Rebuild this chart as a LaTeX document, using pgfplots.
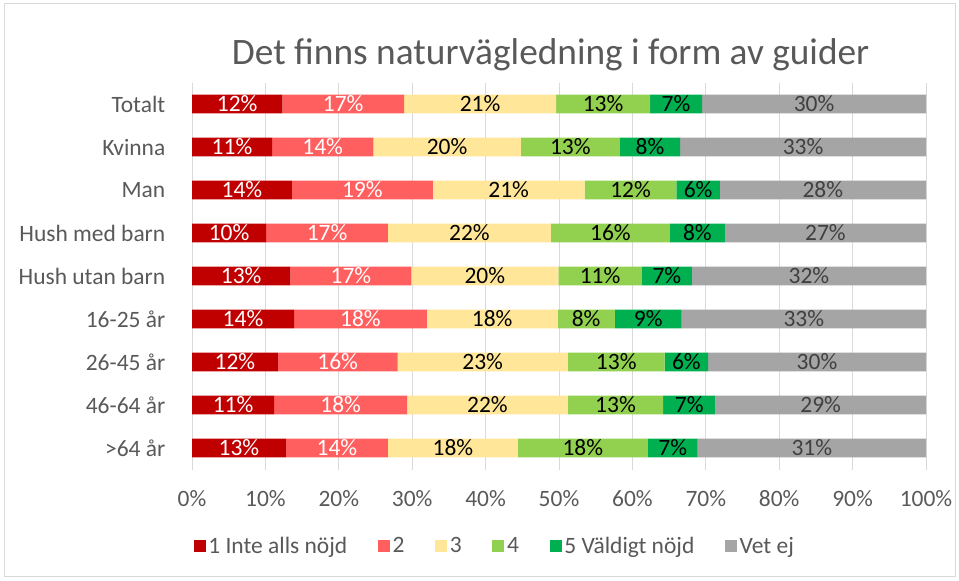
\documentclass[border=0pt]{standalone}
\usepackage{fontspec}
\setmainfont{Carlito}
\usepackage{pgfplots}
\pgfplotsset{compat=1.18}
\usepackage{pgfplotstable}
\definecolor{c1}{HTML}{C00000}
\definecolor{c2}{HTML}{FF5F5F}
\definecolor{c3}{HTML}{FFE699}
\definecolor{c4}{HTML}{92D050}
\definecolor{c5}{HTML}{00B050}
\definecolor{c6}{HTML}{A5A5A5}
\definecolor{gridc}{HTML}{D9D9D9}
\definecolor{txt}{HTML}{595959}
\definecolor{dtxt}{HTML}{404040}
% widths (a..f) and displayed labels (la..lf)
\pgfplotstableread{
y a b c d e f la lb lc ld le lf
0 12.3 16.6 20.7 12.8 7.1 30.5 12 17 21 13 7 30
1 10.9 13.8 20.1 13.5 8.2 33.5 11 14 20 13 8 33
2 13.6 19.2 20.7 12.5 5.9 28.1 14 19 21 12 6 28
3 10.1 16.6 22.2 16.2 7.5 27.4 10 17 22 16 8 27
4 13.4 16.5 20.0 11.4 6.8 31.9 13 17 20 11 7 32
5 13.9 18.1 17.8 7.8 9.1 33.3 14 18 18 8 9 33
6 11.7 16.3 23.2 13.2 5.9 29.7 12 16 23 13 6 30
7 11.2 18.1 21.9 13.0 7.1 28.7 11 18 22 13 7 29
8 12.8 13.9 17.7 17.7 6.8 31.1 13 14 18 18 7 31
}\data
\begin{document}
\begin{tikzpicture}
\path (0,0) rectangle (719.25pt,435.75pt);
\draw[gridc, line width=0.75pt] (3pt,3pt) rectangle (716.25pt,432.75pt);
\node[text=txt, font=\fontsize{28}{33}\selectfont, anchor=center] at (413pt,394.5pt) {Det finns naturvägledning i form av guider};
\begin{axis}[
  at={(144pt,83.6pt)}, anchor=south west,
  scale only axis, width=550.5pt, height=290.25pt,
  xbar stacked, bar width=14pt,
  xmin=0, xmax=100, ymin=-0.5, ymax=8.5,
  y dir=reverse,
  ytick={0,...,8},
  yticklabels={Totalt,Kvinna,Man,Hush med barn,Hush utan barn,16-25 år,26-45 år,46-64 år,>64 år},
  xtick={0,10,...,100},
  xticklabel={\pgfmathprintnumber{\tick}\%},
  /pgf/number format/assume math mode=true,
  xmajorgrids, grid style={gridc, line width=0.75pt},
  axis line style={draw=none},
  tick style={draw=none},
  ticklabel style={text=txt, font=\fontsize{17.6}{21}\selectfont},
  xticklabel style={yshift=-12pt},
  yticklabel style={xshift=-16.5pt},
  point meta=explicit symbolic,
  nodes near coords={\pgfplotspointmeta\%},
  nodes near coords style={font=\fontsize{17.6}{21}\selectfont, anchor=center},
  legend style={at={(0.413,-0.198)}, anchor=center, legend columns=6, draw=none,
    font=\fontsize{17.6}{21}\selectfont, text=txt,
    /tikz/every even column/.append style={column sep=21pt}},
  legend image code/.code={\fill[#1,draw=none] (0pt,-4.5pt) rectangle (9pt,4.5pt);},
]
\addplot[fill=c1, draw=none, every node near coord/.append style={text=white}] table[x=a, y=y, meta=la] {\data};
\addplot[fill=c2, draw=none, every node near coord/.append style={text=white}] table[x=b, y=y, meta=lb] {\data};
\addplot[fill=c3, draw=none, every node near coord/.append style={text=black}] table[x=c, y=y, meta=lc] {\data};
\addplot[fill=c4, draw=none, every node near coord/.append style={text=black}] table[x=d, y=y, meta=ld] {\data};
\addplot[fill=c5, draw=none, every node near coord/.append style={text=black}] table[x=e, y=y, meta=le] {\data};
\addplot[fill=c6, draw=none, every node near coord/.append style={text=dtxt}] table[x=f, y=y, meta=lf] {\data};
\legend{1 Inte alls nöjd,2,3,4,5 Väldigt nöjd,Vet ej}
\end{axis}
\end{tikzpicture}
\end{document}
